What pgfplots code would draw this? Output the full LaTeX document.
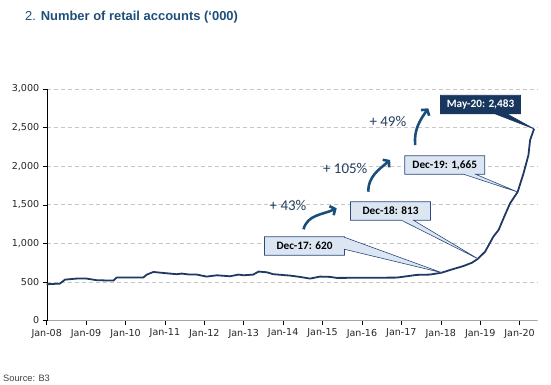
\documentclass[border=0pt]{standalone}
\usepackage{pgfplots}
\pgfplotsset{compat=1.18}
\usepackage{fontspec}
\setmainfont{Liberation Sans}
\newfontfamily\dejavu{DejaVu Sans}
\newfontfamily\carlito{Carlito}
\usetikzlibrary{shapes.callouts,arrows.meta}
\definecolor{linec}{HTML}{1F3864}
\definecolor{boxfill}{HTML}{DCE6F2}
\definecolor{boxdraw}{HTML}{2B4A7E}
\definecolor{darkbox}{HTML}{17375E}
\definecolor{arrowc}{HTML}{1A4E7A}
\definecolor{pctc}{HTML}{243F60}
\definecolor{titlec}{HTML}{1F4E79}
\begin{document}
\begin{tikzpicture}
\path[use as bounding box] (0,0) rectangle (551bp,385bp);
\begin{axis}[
  at={(46.7bp,64.5bp)}, anchor=south west,
  scale only axis, width=490.3bp, height=231.5bp,
  xmin=0, xmax=149.3, ymin=0, ymax=3000,
  axis x line*=bottom, axis y line*=left,
  axis line style={-},
  x axis line style={draw=gray!70},
  y axis line style={draw=black},
  tick align=outside, major tick length=4bp,
  tick style={black, line width=0.5pt},
  xtick={0,12,...,144},
  xticklabels={Jan-08,Jan-09,Jan-10,Jan-11,Jan-12,Jan-13,Jan-14,Jan-15,Jan-16,Jan-17,Jan-18,Jan-19,Jan-20},
  ytick={0,500,...,3000},
  ymajorgrids, grid style={gray!45, line width=0.6pt, dash pattern=on 4bp off 3bp},
  ticklabel style={font=\dejavu\fontsize{9.6}{11}\selectfont, text=black!85},
  xticklabel style={yshift=-1bp},
  clip=false,
  /pgf/number format/assume math mode=true,
  /pgf/number format/1000 sep={,},
]
\addplot[linec, line width=1.8pt, line join=round] coordinates {
(0,470) (4,478) (5.6,530) (9.1,543) (12.2,543) (15.2,522) (20.3,517) (21.3,556)
(29.4,556) (30.5,595) (32.5,629) (35.5,616) (39.6,600) (41.1,608) (43.6,595)
(45.7,595) (48.7,569) (51.8,586) (55.8,573) (58.4,595) (59.9,586) (62.9,595)
(64.5,634) (67,625) (69,600) (74.1,582) (77.1,565) (80.2,543) (83.2,569)
(86.3,565) (88.3,552) (106.6,556) (109.6,573) (112.7,591) (116.7,595)
(120.3,620) (122.8,654) (126.9,706) (129.5,749) (131.3,800) (133.5,892)
(136,1086) (137.6,1173) (139.1,1324) (141.1,1519) (143.4,1665) (145.2,1908)
(146.7,2145) (147.2,2339) (148.4,2483)
};
\coordinate (p17) at (axis cs:120.3,620);
\coordinate (p18) at (axis cs:131.3,800);
\coordinate (p19) at (axis cs:143.4,1665);
\coordinate (p20) at (axis cs:148.4,2483);
\tikzset{cbox/.style={rectangle callout, callout pointer width=12bp, fill=boxfill, draw=boxdraw, line width=0.6pt,
  minimum width=80bp, minimum height=18.5bp, inner sep=0pt, font=\carlito\bfseries\fontsize{11.3}{12}\selectfont, text=black}}
\node[cbox, callout absolute pointer={(p17)}] at (axis cs:78.5,965) {Dec-17: 620};
\node[cbox, callout absolute pointer={(p18)}] at (axis cs:104.7,1419) {Dec-18: 813};
\node[cbox, callout absolute pointer={(p19)}] at (axis cs:121.2,2015) {Dec-19: 1,665};
\node[cbox, fill=darkbox, draw=darkbox, text=white, callout absolute pointer={(p20)}] at (axis cs:132.1,2799) {May-20: 2,483};
\draw[arrowc, line width=2.6pt, -{Straight Barb[length=4pt,width=10pt]}] (axis cs:78.2,1182) to[out=75, in=205] (axis cs:88.3,1454);
\draw[arrowc, line width=2.6pt, -{Straight Barb[length=4pt,width=10pt]}] (axis cs:97.9,1669) to[out=90, in=220] (axis cs:104.6,2080);
\draw[arrowc, line width=2.6pt, -{Straight Barb[length=4pt,width=10pt]}] (axis cs:112.2,2273) to[out=95, in=235] (axis cs:116.2,2750);
\node[text=pctc, font=\carlito\fontsize{15}{16}\selectfont] at (axis cs:73.5,1497) {+ 43\%};
\node[text=pctc, font=\carlito\fontsize{15}{16}\selectfont] at (axis cs:90.9,1976) {+ 105\%};
\node[text=pctc, font=\carlito\fontsize{15}{16}\selectfont] at (axis cs:103.9,2582) {+ 49\%};
\end{axis}
\node[anchor=west, inner sep=0pt, text=titlec, font=\fontsize{13}{15}\selectfont] at (25bp,367.5bp) {2. \textbf{Number of retail accounts (‘000)}};
\node[anchor=west, inner sep=0pt, text=black!75, font=\fontsize{9.3}{11}\selectfont] at (3bp,7bp) {Source: B3};
\end{tikzpicture}
\end{document}
